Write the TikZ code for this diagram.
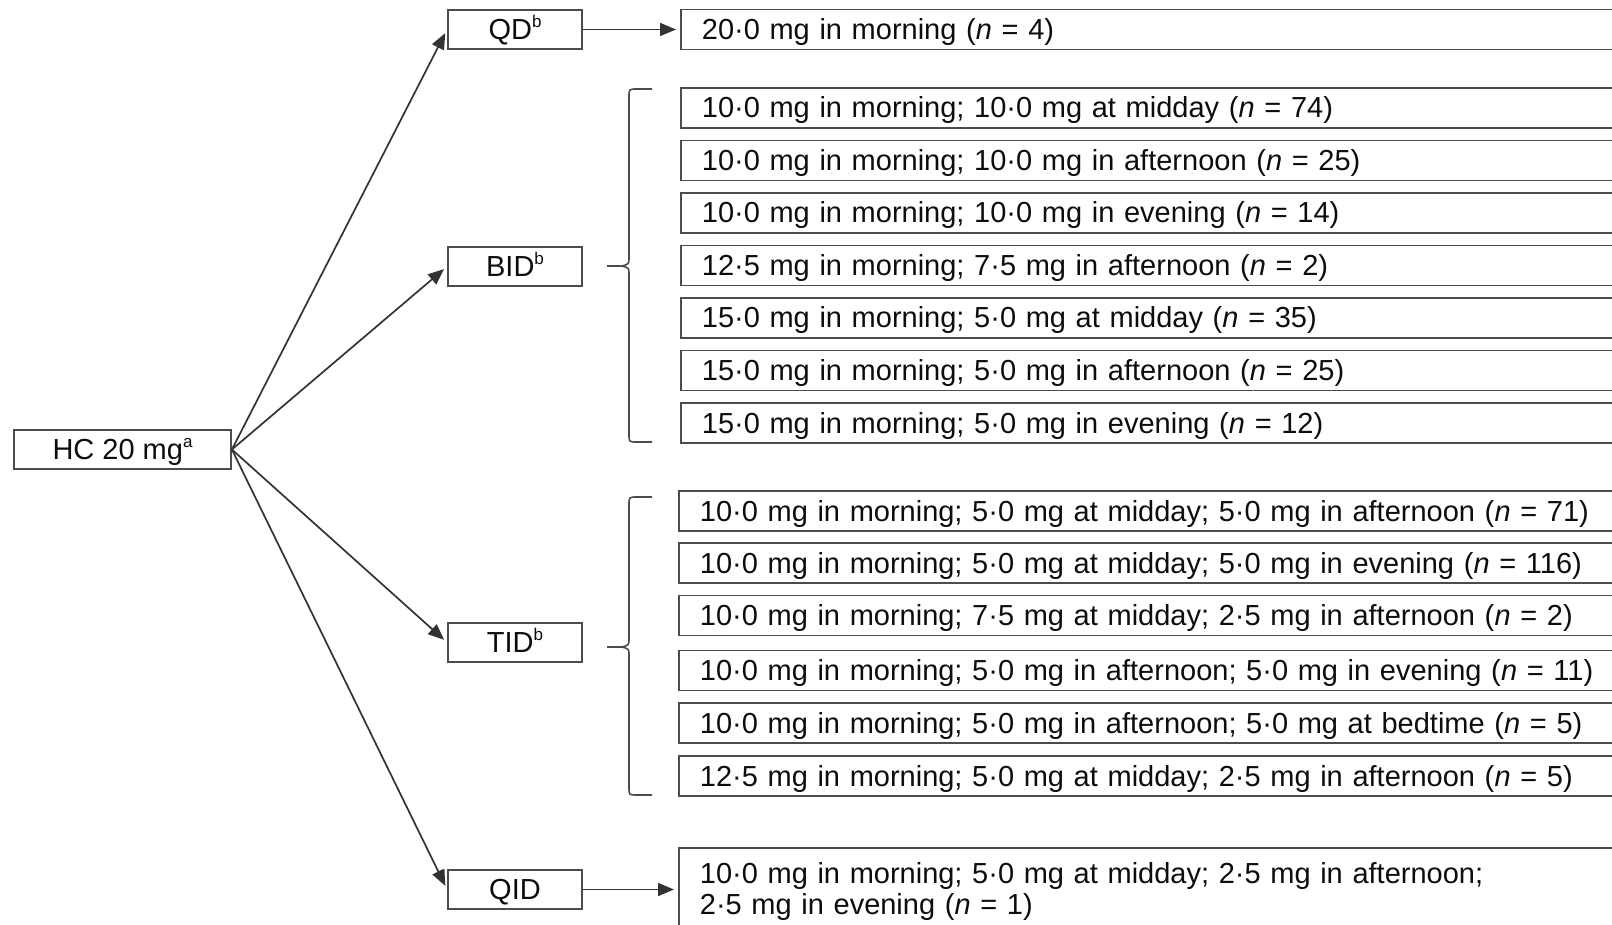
\documentclass[tikz,border=0pt]{standalone}
\usepackage{fontspec}
\setmainfont{Liberation Sans}
\usetikzlibrary{arrows.meta}

\tikzset{
  box/.style={draw=black!70, line width=0.9pt, inner sep=0pt, minimum height=19.5pt,
    text height=11.5pt, text depth=1.5pt},
  regime/.style={box, minimum width=67pt, align=center},
  dose/.style={box, anchor=west, minimum height=20pt, text width=470pt,
    inner xsep=10.5pt, align=left},
  freccia/.style={draw=black!80, line width=0.85pt, -{Triangle[length=8pt,width=6.5pt]}, shorten >=2pt},
  graffa/.style={draw=black!70, line width=0.8pt},
}

% apice piccolo
\newcommand{\apice}[1]{\raisebox{0.42em}{\fontsize{8.5pt}{8.5pt}\selectfont #1}}

% parentesi graffa: alto, centro, basso
\newcommand{\parentesi}[3]{%
  \draw[graffa] (652,#1) -- (637,#1) .. controls (629,#1) .. (629,{#1+8})
    -- (629,{#2-8}) .. controls (629,{#2-2}) .. (622,#2)
    .. controls (629,{#2+2}) .. (629,{#2+8})
    -- (629,{#3-8}) .. controls (629,#3) .. (637,#3) -- (652,#3);
  \draw[graffa] (607,#2) -- (622,#2);}

\begin{document}
\begin{tikzpicture}[x=0.5pt, y=-0.5pt, text=black!95,
    font=\fontsize{14.5pt}{15.5pt}\selectfont]
    \useasboundingbox (0,0) rectangle (1612,925);

    % dose iniziale
    \node[box, minimum width=108.5pt] (hc) at (122.5,449.5) {HC 20 mg\apice{a}};

    % schemi
    \node[regime] (qd)  at (515,29.5)  {QD\apice{b}};
    \node[regime] (bid) at (515,266.5) {BID\apice{b}};
    \node[regime] (tid) at (515,642.5) {TID\apice{b}};
    \node[regime] (qid) at (515,889.5) {QID};

    % una dose al giorno
    \node[dose] (qd1) at (680,29.5) {20·0 mg in morning (\textit{n} = 4)};

    % due dosi
    \node[dose] (bid1) at (680,108)   {10·0 mg in morning; 10·0 mg at midday (\textit{n} = 74)};
    \node[dose] (bid2) at (680,160.5) {10·0 mg in morning; 10·0 mg in afternoon (\textit{n} = 25)};
    \node[dose] (bid3) at (680,213)   {10·0 mg in morning; 10·0 mg in evening (\textit{n} = 14)};
    \node[dose] (bid4) at (680,265.5) {12·5 mg in morning; 7·5 mg in afternoon (\textit{n} = 2)};
    \node[dose] (bid5) at (680,318)   {15·0 mg in morning; 5·0 mg at midday (\textit{n} = 35)};
    \node[dose] (bid6) at (680,370.5) {15·0 mg in morning; 5·0 mg in afternoon (\textit{n} = 25)};
    \node[dose] (bid7) at (680,423)   {15·0 mg in morning; 5·0 mg in evening (\textit{n} = 12)};

    % tre dosi
    \node[dose] (tid1) at (678,511)   {10·0 mg in morning; 5·0 mg at midday; 5·0 mg in afternoon (\textit{n} = 71)};
    \node[dose] (tid2) at (678,563)   {10·0 mg in morning; 5·0 mg at midday; 5·0 mg in evening (\textit{n} = 116)};
    \node[dose] (tid3) at (678,615.5) {10·0 mg in morning; 7·5 mg at midday; 2·5 mg in afternoon (\textit{n} = 2)};
    \node[dose] (tid4) at (678,670.5) {10·0 mg in morning; 5·0 mg in afternoon; 5·0 mg in evening (\textit{n} = 11)};
    \node[dose] (tid5) at (678,723)   {10·0 mg in morning; 5·0 mg in afternoon; 5·0 mg at bedtime (\textit{n} = 5)};
    \node[dose] (tid6) at (678,776)   {12·5 mg in morning; 5·0 mg at midday; 2·5 mg in afternoon (\textit{n} = 5)};

    % quattro dosi
    \node[dose, minimum height=43.5pt, text height={}, text depth={}] (qid1) at (678,891.5)
        {10·0 mg in morning; 5·0 mg at midday; 2·5 mg in afternoon;\\
         2·5 mg in evening (\textit{n} = 1)};

    % frecce
    \draw[freccia] (hc.east) -- (qd.west);
    \draw[freccia] (hc.east) -- (bid.west);
    \draw[freccia] (hc.east) -- (tid.west);
    \draw[freccia] (hc.east) -- (qid.west);
    \draw[freccia] (qd.east) -- (qd1.west);
    \draw[freccia] (qid.east) -- (qid.east -| qid1.west);

    % graffe
    \parentesi{89}{266}{442}
    \parentesi{497}{647}{795}
\end{tikzpicture}
\end{document}
